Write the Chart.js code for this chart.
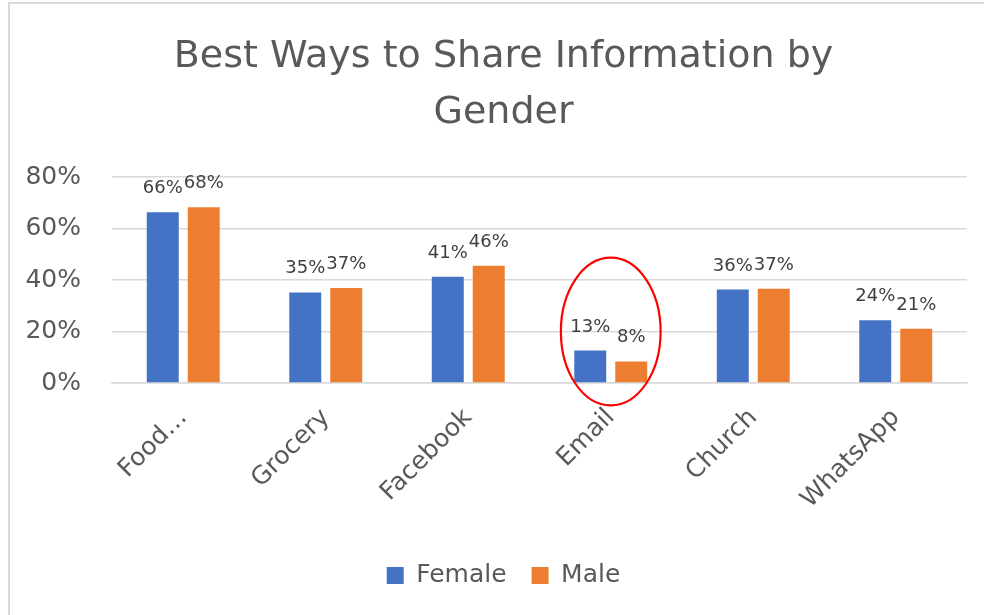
<!DOCTYPE html>
<html>
<head>
<meta charset="utf-8">
<script src="https://cdn.jsdelivr.net/npm/chart.js@4/dist/chart.umd.min.js"></script>
<style>
    body { margin: 0; background: #fff; overflow: hidden; }
    #frame { position: absolute; left: 8px; top: 2px; width: 1200px; height: 800px; border: 2px solid #d9d9d9; }
    #wrap { position: absolute; left: 0; top: 0; width: 984px; height: 615px; }
</style>
</head>
<body>
<div id="frame"></div>
<div id="wrap"><canvas id="chart"></canvas></div>
<script>
const categories = ['Food\u2026', 'Grocery', 'Facebook', 'Email', 'Church', 'WhatsApp']
const female = [66.4, 35.2, 41.3, 12.6, 36.3, 24.4]
const male = [68.3, 36.9, 45.6, 8.4, 36.6, 21.1]
const yTicks = [0, 20, 40, 60, 80]

// red ring drawn round one category (values in % and fraction of category width)
const highlight = { category: 'Email', centerValue: 20, halfHeight: 28.7, halfWidth: 0.35 }

const grey = '#595959'
const font = 'DejaVu Sans'

const barLabels = {
    id: 'barLabels',
    afterDatasetsDraw(chart) {
        const ctx = chart.ctx
        ctx.save()
        ctx.font = `18px "${font}"`
        ctx.fillStyle = '#404040'
        ctx.textAlign = 'center'
        ctx.textBaseline = 'alphabetic'
        chart.data.datasets.forEach((ds, i) => {
            chart.getDatasetMeta(i).data.forEach((bar, j) => {
                ctx.fillText(`${Math.round(ds.data[j])}%`, bar.x, bar.y - 19)
            })
        })
        ctx.restore()
    }
}

const ring = {
    id: 'ring',
    afterDraw(chart) {
        const x = chart.scales.x
        const y = chart.scales.y
        const idx = categories.indexOf(highlight.category)
        const cx = x.getPixelForValue(idx)
        const cy = y.getPixelForValue(highlight.centerValue)
        const ry = y.getPixelForValue(0) - y.getPixelForValue(highlight.halfHeight)
        const rx = (x.width / categories.length) * highlight.halfWidth
        const ctx = chart.ctx
        ctx.save()
        ctx.strokeStyle = '#ff0000'
        ctx.lineWidth = 2.2
        ctx.beginPath()
        ctx.ellipse(cx, cy, rx, ry, 0, 0, Math.PI * 2)
        ctx.stroke()
        ctx.restore()
    }
}

// the y labels hang into the left padding, so widen the label clip box
const unclipY = {
    id: 'unclipY',
    afterLayout(chart) { chart.scales.y.left = 0 }
}

new Chart(document.getElementById('chart'), {
    type: 'bar',
    data: {
        labels: categories,
        datasets: [
            { label: 'Female', data: female, backgroundColor: '#4472C4' },
            { label: 'Male', data: male, backgroundColor: '#ED7D31' }
        ]
    },
    options: {
        responsive: true,
        maintainAspectRatio: false,
        animation: false,
        categoryPercentage: 0.575,
        barPercentage: 0.78,
        layout: { padding: { top: 0, right: 17, bottom: 17, left: 40 } },
        plugins: {
            tooltip: { enabled: false },
            title: {
                display: true,
                text: ['Best Ways to Share Information by', 'Gender'],
                color: grey,
                font: { family: font, size: 38, weight: 'normal', lineHeight: 1.45 },
                padding: { top: 30, bottom: 37 }
            },
            legend: {
                position: 'bottom',
                labels: {
                    color: grey,
                    font: { family: font, size: 25 },
                    boxWidth: 17,
                    boxHeight: 17,
                    padding: 25
                }
            }
        },
        scales: {
            x: {
                grid: { display: false, drawTicks: false },
                border: { color: '#d9d9d9', width: 1.5 },
                ticks: {
                    color: grey,
                    font: { family: font, size: 25 },
                    minRotation: 45,
                    maxRotation: 45,
                    padding: 20
                },
                afterFit(scale) { scale.height = 155 }
            },
            y: {
                min: 0,
                max: 80,
                grid: { color: '#d9d9d9', lineWidth: 1.5, drawTicks: false },
                border: { display: false },
                afterBuildTicks(scale) { scale.ticks = yTicks.map(v => ({ value: v })) },
                ticks: {
                    color: grey,
                    font: { family: font, size: 25 },
                    padding: 31,
                    callback: v => `${v}%`
                },
                afterFit(scale) { scale.width = 72 }
            }
        }
    },
    plugins: [barLabels, ring, unclipY]
})
</script>
</body>
</html>
